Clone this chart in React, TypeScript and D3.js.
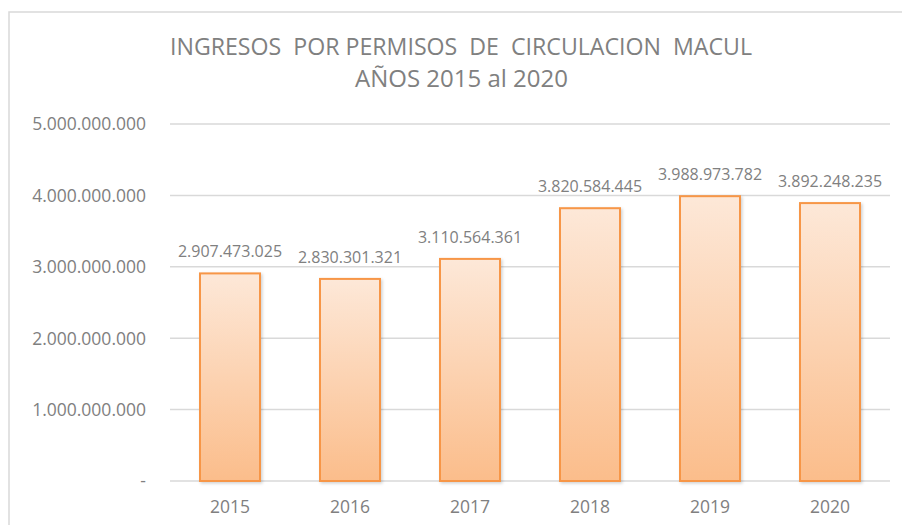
import React from "react";
import * as d3 from "d3";

const years = ["2015", "2016", "2017", "2018", "2019", "2020"];
const values = [2907473025, 2830301321, 3110564361, 3820584445, 3988973782, 3892248235];
const yTicks = [0, 1000000000, 2000000000, 3000000000, 4000000000, 5000000000];
const titleLines = ["INGRESOS  POR PERMISOS  DE  CIRCULACION  MACUL", "AÑOS 2015 al 2020"];

const W = 902;
const H = 525;
const FONT = "'Open Sans', 'DejaVu Sans', sans-serif";
const TXT = "#808080";

function fmt(v: number): string {
  if (v === 0) return "-";
  return d3.format(",")(v).replace(/,/g, ".");
}

export default function App() {
  const x = d3.scaleBand<string>().domain(years).range([170, 890]).paddingInner(0.5).paddingOuter(0.25);
  const y = d3.scaleLinear().domain([0, 5000000000]).range([481, 124]);

  return (
    <svg width={W} height={H} style={{ position: "absolute", left: 0, top: 0, background: "#fff" }}>
      <defs>
        <linearGradient id="barGrad" x1="0" y1="0" x2="0" y2="1">
          <stop offset="0%" stopColor="#fde8d8" />
          <stop offset="100%" stopColor="#fbbd8b" />
        </linearGradient>
        <filter id="shadow" x="-20%" y="-20%" width="140%" height="140%">
          <feDropShadow dx="1.5" dy="1.5" stdDeviation="1.5" floodColor="#000" floodOpacity="0.18" />
        </filter>
      </defs>
      <rect x={9} y={12} width={W + 20} height={H + 20} fill="#fff" stroke="#d9d9d9" strokeWidth={1.5} />

      <text x={461} y={55} textAnchor="middle" fontFamily={FONT} fontSize={24} fill={TXT}
        textLength={582} lengthAdjust="spacingAndGlyphs" style={{ whiteSpace: "pre" }}>
        {titleLines[0]}
      </text>
      <text x={461.5} y={87} textAnchor="middle" fontFamily={FONT} fontSize={24} fill={TXT}
        textLength={213} lengthAdjust="spacingAndGlyphs">
        {titleLines[1]}
      </text>

      {yTicks.map((t) => (
        <g key={t}>
          <line x1={170} x2={890} y1={y(t)} y2={y(t)} stroke="#d9d9d9" strokeWidth={1.5} />
          <text x={146} y={y(t)} dy="0.36em" textAnchor="end" fontFamily={FONT} fontSize={17.5} fill={TXT}>
            {fmt(t)}
          </text>
        </g>
      ))}

      {values.map((v, i) => {
        const xv = x(years[i])!;
        const bw = x.bandwidth();
        return (
          <g key={years[i]}>
            <rect x={xv} y={y(v)} width={bw} height={y(0) - y(v)} fill="url(#barGrad)"
              stroke="#f79646" strokeWidth={2} filter="url(#shadow)" />
            <text x={xv + bw / 2} y={y(v) - 16} textAnchor="middle" fontFamily={FONT} fontSize={16} fill={TXT}>
              {fmt(v)}
            </text>
            <text x={xv + bw / 2} y={513} textAnchor="middle" fontFamily={FONT} fontSize={17.5} fill={TXT}>
              {years[i]}
            </text>
          </g>
        );
      })}
    </svg>
  );
}
